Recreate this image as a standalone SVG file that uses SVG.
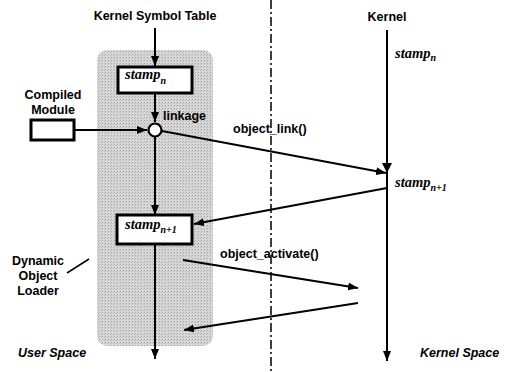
<svg xmlns="http://www.w3.org/2000/svg" width="507" height="372" viewBox="0 0 507 372">
<defs>
<marker id="ah" markerUnits="userSpaceOnUse" markerWidth="10" markerHeight="8" refX="10" refY="4" orient="auto">
<path d="M0,0 L10,4 L0,8 z" fill="#000"/>
</marker>
<pattern id="dots" width="3" height="3" patternUnits="userSpaceOnUse">
<rect width="3" height="3" fill="#d8d8d8"/>
<rect x="0" y="0" width="1" height="1" fill="#a0a0a0"/>
<rect x="2" y="1" width="1" height="1" fill="#b8b8b8"/>
</pattern>
<style>
.lbl{font-family:"Liberation Sans",Arial,sans-serif;font-weight:bold;font-size:12.5px;fill:#000}
.it{font-style:italic}
.st{font-family:"Liberation Serif","Times New Roman",serif;font-weight:bold;font-style:italic;font-size:14.5px;fill:#000}
.sub{font-size:10px}
.box{fill:#fff;stroke:#000;stroke-width:3}
.arr{fill:none;stroke:#000;stroke-width:2;marker-end:url(#ah)}
</style>
</defs>
<rect fill="#fff" width="507" height="372"/>
<g id="loader-region">
<rect x="97" y="50" width="116" height="296" rx="10" fill="url(#dots)"/>
</g>
<g id="connectors">
<line class="arr" x1="155" y1="28" x2="155" y2="66"/>
<line class="arr" x1="155" y1="93" x2="155" y2="122"/>
<line class="arr" x1="155" y1="137" x2="155" y2="215"/>
<line class="arr" x1="155" y1="245" x2="155" y2="359"/>
<line class="arr" x1="74" y1="130" x2="147" y2="130"/>
<line class="arr" x1="162" y1="131" x2="386" y2="173"/>
<line class="arr" x1="387" y1="188" x2="194" y2="224"/>
<line class="arr" x1="183" y1="260" x2="358" y2="288"/>
<line class="arr" x1="358" y1="303" x2="184" y2="330"/>
<line class="arr" x1="387" y1="30" x2="387" y2="361"/>
<path d="M382,163 L392,163 L387,173 z" fill="#000"/>
<line x1="67" y1="273" x2="89" y2="259" stroke="#000" stroke-width="1.5"/>
<line x1="271" y1="0" x2="271" y2="372" stroke="#000" stroke-width="1.5" stroke-dasharray="9 3 2 3"/>
</g>
<g id="kernel-symbol-table">
<text class="lbl" x="155" y="20" text-anchor="middle">Kernel Symbol Table</text>
</g>
<g id="kernel">
<text class="lbl" x="387" y="21" text-anchor="middle">Kernel</text>
</g>
<g id="stamp-n">
<rect class="box" x="118" y="67" width="74" height="26"/>
<text class="st" x="125" y="79">stamp<tspan class="sub" dy="5">n</tspan></text>
</g>
<g id="linkage">
<circle cx="155" cy="130" r="6.5" fill="#fff" stroke="#000" stroke-width="2.2"/>
<text class="lbl" x="163" y="120">linkage</text>
</g>
<g id="compiled-module">
<text class="lbl" x="53" y="99" text-anchor="middle">Compiled</text>
<text class="lbl" x="53" y="114" text-anchor="middle">Module</text>
<rect class="box" x="31" y="120" width="43" height="20" stroke-width="2.5"/>
</g>
<g id="stamp-n1">
<rect class="box" x="117" y="215" width="75" height="29"/>
<text class="st" x="125" y="229">stamp<tspan class="sub" dy="4">n+1</tspan></text>
</g>
<g id="dynamic-object-loader">
<text class="lbl" x="38" y="265" text-anchor="middle">Dynamic</text>
<text class="lbl" x="38" y="280" text-anchor="middle">Object</text>
<text class="lbl" x="38" y="295" text-anchor="middle">Loader</text>
</g>
<g id="labels">
<text class="lbl" x="233" y="133">object_link()</text>
<text class="lbl" x="220" y="258">object_activate()</text>
<text class="st" x="395" y="58">stamp<tspan class="sub" dy="3">n</tspan></text>
<text class="st" x="395" y="187">stamp<tspan class="sub" dy="4">n+1</tspan></text>
<text class="lbl it" x="18" y="357">User Space</text>
<text class="lbl it" x="420" y="357">Kernel Space</text>
</g>
</svg>
